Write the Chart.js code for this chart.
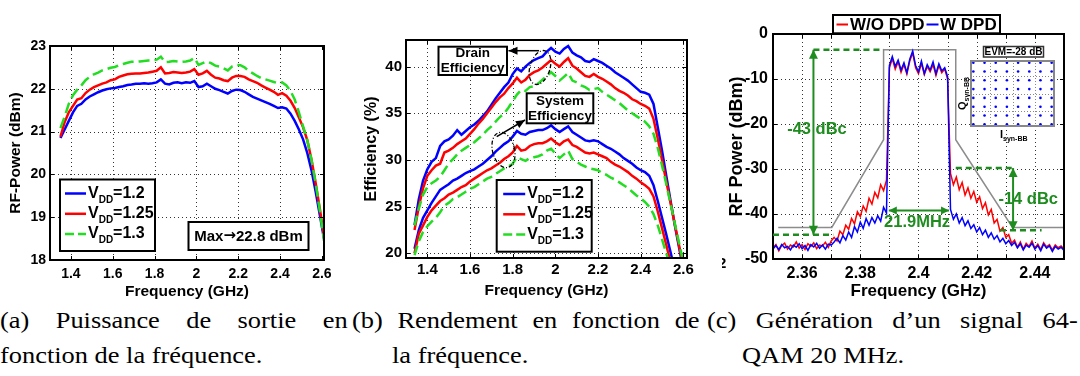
<!DOCTYPE html>
<html>
<head>
<meta charset="utf-8">
<script src="https://cdn.jsdelivr.net/npm/chart.js@4.4.1/dist/chart.umd.min.js"></script>
<style>
  html, body { margin: 0; padding: 0; background: #fff; }
  body { width: 1080px; height: 376px; position: relative; overflow: hidden; }
  canvas { position: absolute; }
  .cap { position: absolute; font-family: "Liberation Serif", "Times New Roman", serif; font-size: 24px;
         line-height: 28px; white-space: nowrap; color: #000; transform-origin: 0 0; transform: scaleX(1.1); }
  .just { text-align: justify; text-align-last: justify; white-space: normal; }
  .stray { position: absolute; left: 722px; top: 254px; width: 6px; height: 16px; overflow: hidden;
           font: bold 15px "Liberation Sans", Arial, sans-serif; }
  .stray span { margin-left: -4px; }
</style>
</head>
<body>
<canvas id="chartA" width="335" height="305" style="left:0;top:0"></canvas>
<canvas id="chartB" width="355" height="305" style="left:340px;top:0"></canvas>
<canvas id="chartC" width="380" height="305" style="left:700px;top:0"></canvas>
<canvas id="chartQam" width="85" height="67" style="left:970px;top:60px"></canvas>
<div class="stray"><span>2</span></div>

<div class="cap just" style="left:0;top:306px;width:316px">(a) Puissance de sortie en</div>
<div class="cap" style="left:0;top:341px">fonction de la fréquence.</div>
<div class="cap just" style="left:352px;top:306px;width:316px">(b) Rendement en fonction de</div>
<div class="cap" style="left:392px;top:341px">la fréquence.</div>
<div class="cap just" style="left:707px;top:306px;width:337px">(c) Génération d’un signal 64-</div>
<div class="cap" style="left:742px;top:341px">QAM 20 MHz.</div>

<script>
// ------------------   DATA   ----------------
// (a) output power vs frequency
const freqA = [
  1.35, 1.37, 1.39, 1.41, 1.43, 1.45, 1.47, 1.49, 1.51, 1.53,
  1.55, 1.57, 1.59, 1.61, 1.63, 1.65, 1.67, 1.69, 1.71, 1.73,
  1.75, 1.77, 1.79, 1.81, 1.83, 1.85, 1.87, 1.89, 1.91, 1.93,
  1.95, 1.97, 1.99, 2.01, 2.03, 2.05, 2.07, 2.09, 2.11, 2.13,
  2.15, 2.17, 2.19, 2.21, 2.23, 2.25, 2.27, 2.29, 2.31, 2.33,
  2.35, 2.37, 2.39, 2.41, 2.43, 2.45, 2.47, 2.49, 2.51, 2.53,
  2.55, 2.57, 2.59, 2.61
];
const powerVdd12 = [
  20.85, 21.05, 21.25, 21.45, 21.6, 21.65, 21.75, 21.82, 21.87, 21.92,
  21.96, 21.99, 22.01, 22.02, 22.04, 22.06, 22.09, 22.1, 22.12, 22.12,
  22.13, 22.12, 22.13, 22.15, 22.22, 22.12, 22.1, 22.14, 22.15, 22.13,
  22.15, 22.14, 22.18, 22.04, 22.06, 22.12, 22.06, 22.0, 21.97, 21.93,
  21.89, 21.95, 21.98, 21.97, 21.93, 21.87, 21.81, 21.77, 21.73, 21.69,
  21.65, 21.6, 21.55, 21.57, 21.54, 21.42, 21.25, 21.05, 20.82, 20.5,
  20.1, 19.6, 19.05, 18.5
];
const powerVdd125 = [
  20.88, 21.22, 21.45, 21.6, 21.75, 21.78, 21.9, 21.98, 22.04, 22.08,
  22.12, 22.15, 22.2, 22.22, 22.28, 22.31, 22.34, 22.35, 22.36, 22.36,
  22.37, 22.38, 22.4, 22.42, 22.5, 22.36, 22.37, 22.39, 22.38, 22.37,
  22.38, 22.4, 22.46, 22.33, 22.36, 22.42, 22.33, 22.26, 22.24, 22.2,
  22.18, 22.26, 22.3, 22.3, 22.28, 22.22, 22.18, 22.14, 22.08, 22.03,
  21.98, 21.93, 21.86, 21.9, 21.84, 21.72, 21.55, 21.33, 21.1, 20.8,
  20.35, 19.8, 19.2, 18.55
];
const powerVdd13 = [
  21.08, 21.35, 21.65, 21.85, 21.98, 22.08, 22.2, 22.28, 22.34, 22.38,
  22.43, 22.46, 22.49, 22.51, 22.55, 22.58, 22.61, 22.63, 22.63, 22.64,
  22.65, 22.66, 22.66, 22.68, 22.75, 22.62, 22.63, 22.65, 22.64, 22.63,
  22.64, 22.66, 22.72, 22.56, 22.6, 22.64, 22.6, 22.54, 22.52, 22.48,
  22.43, 22.52, 22.56, 22.55, 22.5, 22.42, 22.36, 22.3, 22.25, 22.22,
  22.19, 22.16, 22.13, 22.15, 22.08, 21.95, 21.75, 21.45, 21.12, 20.8,
  20.35, 19.8, 19.15, 18.45
];
const xTicksA = [1.4, 1.6, 1.8, 2, 2.2, 2.4, 2.6];
const yTicksA = [18, 19, 20, 21, 22, 23];

// (b) drain and system efficiency vs frequency
const freqB = [
  1.34, 1.36, 1.38, 1.40, 1.42, 1.44, 1.46, 1.48, 1.50, 1.52,
  1.54, 1.56, 1.58, 1.60, 1.62, 1.64, 1.66, 1.68, 1.70, 1.72,
  1.74, 1.76, 1.78, 1.80, 1.82, 1.84, 1.86, 1.88, 1.90, 1.92,
  1.94, 1.96, 1.98, 2.00, 2.02, 2.04, 2.06, 2.08, 2.10, 2.12,
  2.14, 2.16, 2.18, 2.20, 2.22, 2.24, 2.26, 2.28, 2.30, 2.32,
  2.34, 2.36, 2.38, 2.40, 2.42, 2.44, 2.46, 2.48, 2.50, 2.52,
  2.54, 2.56, 2.58, 2.60
];
const drainVdd12 = [
  23.0, 25.8, 27.8, 29.0, 29.8, 30.2, 31.5, 32.0, 32.2, 32.6,
  33.2, 32.7, 33.1, 33.5, 33.8, 34.2, 34.7, 35.2, 35.9, 36.6,
  37.2, 37.8, 38.3, 39.2, 39.8, 39.5, 40.0, 40.4, 40.7, 40.9,
  41.1, 41.6, 42.0, 41.6, 41.4, 41.9, 42.2, 41.5, 41.2, 41.0,
  40.6, 40.5, 40.8, 40.6, 40.4, 40.1, 39.8, 39.4, 39.1, 38.8,
  38.5, 38.1, 37.7, 37.3, 37.2, 37.0, 36.0, 33.5, 31.0, 28.3,
  25.6, 23.0, 20.6, 18.2
];
const drainVdd125 = [
  22.5, 25.0, 27.0, 28.3, 28.9, 29.4, 29.6, 30.8, 31.0, 31.3,
  31.7, 32.0, 32.3, 32.8, 33.3, 33.9, 34.4, 35.0, 35.6, 36.2,
  36.7, 37.1, 37.7, 38.2, 38.8, 38.3, 38.6, 39.1, 39.4, 39.6,
  39.9, 40.3, 40.7, 40.3, 40.0, 40.5, 40.9, 40.1, 39.8, 39.4,
  39.0, 38.9, 39.2, 38.9, 38.7, 38.4, 38.1, 37.7, 37.4, 37.2,
  36.9, 36.5, 36.3, 36.0, 35.8, 35.5, 34.4, 32.3, 30.0, 27.7,
  25.4, 23.1, 20.8, 18.5
];
const drainVdd13 = [
  23.0, 24.8, 26.3, 27.1, 27.5, 27.8, 28.2, 28.9, 29.6, 30.1,
  30.6, 31.0, 31.3, 31.6, 31.9, 32.3, 32.7, 33.2, 33.6, 34.1,
  34.6, 35.0, 35.6, 36.3, 37.0, 37.5, 37.4, 37.8, 37.9, 38.2,
  38.6, 39.0, 39.4, 39.0, 38.5, 38.9, 39.3, 38.5, 38.3, 38.0,
  37.8, 37.5, 37.6, 37.7, 37.3, 37.0, 36.7, 36.4, 36.1, 35.7,
  35.3, 35.0, 34.7, 34.4, 34.1, 33.6, 32.8, 31.3, 29.4, 27.4,
  25.3, 23.2, 21.1, 19.0
];
const systemVdd12 = [
  20.5, 22.5, 23.8, 24.6, 25.4, 26.1, 26.8, 27.1, 27.4, 27.8,
  28.0, 28.3, 28.6, 28.8, 29.0, 29.3, 29.6, 30.0, 30.4, 30.9,
  31.3, 31.7, 32.0, 32.5, 33.1, 32.8, 32.7, 33.0, 33.1, 33.2,
  33.2, 33.4, 33.7, 33.3, 33.0, 33.3, 33.6, 33.0, 32.7, 32.4,
  32.1, 32.0, 32.1, 32.0, 31.7, 31.4, 31.2, 30.9, 30.6, 30.2,
  29.9, 29.6, 29.2, 28.9, 28.7, 28.3, 27.3, 25.6, 23.8, 22.0,
  20.1, 18.2, null, null
];
const systemVdd125 = [
  20.0, 22.1, 23.0, 23.9, 24.6, 25.1, 25.6, 25.9, 26.3, 26.5,
  26.8, 27.1, 27.3, 27.7, 28.0, 28.3, 28.6, 28.9, 29.1, 29.4,
  29.7, 30.1, 30.4, 30.8, 31.5, 31.0, 31.1, 31.5, 31.7, 31.8,
  31.8, 32.0, 32.3, 31.9, 31.6, 32.0, 32.2, 31.6, 31.4, 31.1,
  30.8, 30.7, 30.8, 30.6, 30.4, 30.2, 29.8, 29.5, 29.3, 29.0,
  28.7, 28.3, 28.0, 27.6, 27.3, 26.9, 26.1, 24.5, 22.7, 20.9,
  19.0, 17.1, null, null
];
const systemVdd13 = [
  19.8, 21.3, 22.3, 22.9, 23.4, 23.8, 24.4, 25.1, 25.4, 25.8,
  26.0, 26.3, 26.6, 26.9, 27.1, 27.4, 27.7, 28.0, 28.2, 28.5,
  28.8, 29.1, 29.3, 29.6, 30.3, 30.1, 29.9, 30.2, 30.3, 30.4,
  30.6, 31.0, 31.2, 30.7, 30.2, 30.6, 31.0, 30.1, 29.8, 29.5,
  29.3, 29.1, 29.0, 28.9, 28.6, 28.4, 28.1, 27.9, 27.6, 27.3,
  27.0, 26.6, 26.2, 25.9, 25.5, 25.0, 24.2, 23.0, 21.5, 20.0,
  18.5, null, null, null
];
const xTicksB = [1.4, 1.6, 1.8, 2, 2.2, 2.4, 2.6];
const yTicksB = [20, 25, 30, 35, 40];

// (c) 64-QAM 20 MHz spectrum
const freqC = [
  2.350, 2.351, 2.352, 2.353, 2.354, 2.355, 2.356, 2.357, 2.358, 2.359,
  2.360, 2.361, 2.362, 2.363, 2.364, 2.365, 2.366, 2.367, 2.368, 2.369,
  2.370, 2.371, 2.372, 2.373, 2.374, 2.375, 2.376, 2.377, 2.378, 2.379,
  2.380, 2.381, 2.382, 2.383, 2.384, 2.385, 2.386, 2.387, 2.388, 2.389,
  2.390, 2.391, 2.392, 2.393, 2.394, 2.395, 2.396, 2.397, 2.398, 2.399,
  2.400, 2.401, 2.402, 2.403, 2.404, 2.405, 2.406, 2.407, 2.408, 2.409,
  2.410, 2.411, 2.412, 2.413, 2.414, 2.415, 2.416, 2.417, 2.418, 2.419,
  2.420, 2.421, 2.422, 2.423, 2.424, 2.425, 2.426, 2.427, 2.428, 2.429,
  2.430, 2.431, 2.432, 2.433, 2.434, 2.435, 2.436, 2.437, 2.438, 2.439,
  2.440, 2.441, 2.442, 2.443, 2.444, 2.445, 2.446, 2.447, 2.448, 2.449,
  2.450
];
const powerNoDpd = [
  -47.5, -46.8, -48.2, -47.0, -46.5, -47.8, -46.9, -47.3, -46.2, -47.6,
  -46.8, -47.9, -46.6, -47.2, -46.4, -47.7, -46.9, -47.1, -46.3, -47.4,
  -46.0, -45.2, -46.0, -43.8, -44.6, -42.5, -43.4, -41.0, -42.2, -39.5,
  -40.6, -38.2, -39.4, -36.5, -37.8, -35.2, -36.4, -33.5, -34.8, -32.5,
  -7.5, -5.5, -7.8, -6.2, -8.5, -6.8, -8.9, -6.0, -4.2, -7.5,
  -8.8, -6.5, -9.0, -7.2, -8.4, -6.8, -9.2, -7.0, -8.6, -7.8,
  -10.0, -31.0, -33.5, -31.8, -34.6, -33.0, -35.8, -34.2, -36.5, -35.0,
  -37.4, -36.2, -38.8, -37.5, -40.2, -39.0, -42.0, -41.2, -43.8, -43.0,
  -45.2, -44.6, -46.5, -45.8, -47.4, -46.2, -47.8, -46.5, -47.2, -46.0,
  -47.6, -46.7, -47.9, -46.4, -47.3, -46.8, -48.0, -46.9, -47.5, -47.1,
  -47.8
];
const powerWithDpd = [
  -47.8, -47.0, -47.9, -46.8, -47.5, -47.2, -48.0, -46.9, -47.4, -46.6,
  -47.7, -47.0, -48.1, -46.8, -47.3, -46.5, -47.6, -46.9, -47.8, -46.7,
  -46.9, -46.2, -45.4, -46.4, -44.8, -45.8, -44.0, -45.2, -42.8, -44.0,
  -41.8, -43.2, -41.0, -42.5, -40.8, -42.0, -40.4, -41.6, -38.5, -39.8,
  -7.0, -5.0, -7.2, -5.8, -8.0, -6.4, -8.6, -5.6, -3.8, -7.0,
  -8.4, -6.0, -8.8, -6.8, -8.0, -6.2, -8.8, -6.6, -8.2, -7.5,
  -9.5, -39.0, -41.2, -40.0, -42.0, -40.8, -42.6, -41.5, -43.2, -42.4,
  -44.0, -43.0, -44.6, -43.6, -45.2, -44.2, -45.6, -44.8, -46.2, -45.4,
  -46.6, -45.9, -47.0, -46.3, -47.5, -46.6, -48.0, -46.9, -47.4, -46.5,
  -47.8, -47.0, -48.2, -46.7, -47.6, -47.1, -48.3, -47.2, -47.8, -47.4,
  -48.1
];
const maskFreq = [2.3518, 2.3702, 2.388, 2.388, 2.4128, 2.4128, 2.4323, 2.45];
const maskPower = [-43, -43, -23.5, -3.5, -3.5, -23.5, -43, -43];
const xTicksC = [2.36, 2.37, 2.38, 2.39, 2.40, 2.41, 2.42, 2.43, 2.44];
const yTicksC = [-50, -40, -30, -20, -10, 0];
const qamLevels = [-7, -5, -3, -1, 1, 3, 5, 7];
const qamGrid = [-4, 0, 4];
const vddLabels = ['1.2', '1.25', '1.3'];

// ------------------   STYLE   ----------------
const FONT = '"Liberation Sans", Arial, sans-serif';
const BLUE = '#0000ff';
const RED = '#ff0000';
const LIME = '#22dd22';
const GREEN = '#1e8c1e';
Chart.defaults.font.family = FONT;
Chart.defaults.color = '#000';

// ------------   FUNCTIONS   ----------------------
const toPoints = (xs, ys) => xs.map((x, i) => ({ x, y: ys[i] }));
const fmt = (v) => String(+Number(v).toFixed(2));

function curve(xs, ys, color, width, dash) {
  return {
    data: toPoints(xs, ys),
    borderColor: color,
    borderWidth: width,
    borderDash: dash || [],
    pointRadius: 0,
    tension: 0,
    fill: false,
  };
}

function axes(c) {
  return {
    x: {
      type: 'linear', min: c.xMin, max: c.xMax,
      afterBuildTicks: (s) => { s.ticks = c.xTicks.map((v) => ({ value: v })); },
      afterFit: (s) => { s.height = c.xHeight; s.paddingLeft = 0; s.paddingRight = 0; },
      grid: { display: false, drawTicks: false },
      border: { display: false },
      ticks: {
        autoSkip: false, maxRotation: 0, padding: c.xPad,
        font: { size: c.tickSize, weight: 'bold' },
        callback: c.xLabel || fmt,
      },
      title: {
        display: true, text: 'Frequency (GHz)',
        font: { size: c.xTitleSize, weight: 'bold' },
        padding: { top: 0, bottom: c.xTitlePad },
      },
    },
    y: {
      type: 'linear', min: c.yMin, max: c.yMax,
      afterBuildTicks: (s) => { s.ticks = c.yTicks.map((v) => ({ value: v })); },
      afterFit: (s) => { s.width = c.yWidth; s.paddingTop = 0; s.paddingBottom = 0; },
      grid: { display: false, drawTicks: false },
      border: { display: false },
      ticks: { autoSkip: false, padding: c.yPad, font: { size: c.tickSize, weight: 'bold' }, callback: fmt },
      title: {
        display: true, text: c.yTitle,
        font: { size: c.yTitleSize, weight: 'bold' },
        padding: { top: c.yTitlePad, bottom: 0 },
      },
    },
  };
}

function baseOptions(padding, scales, extra) {
  return {
    responsive: false, animation: false, devicePixelRatio: 1, events: [],
    layout: { padding, autoPadding: false },
    scales,
    plugins: Object.assign({ legend: { display: false }, tooltip: { enabled: false } }, extra || {}),
  };
}

// dotted grid, inward ticks and black box like a matlab axes
const matlabAxes = {
  id: 'matlabAxes',
  beforeDatasetsDraw(chart, args, opts) {
    const { ctx, chartArea: a, scales: { x, y } } = chart;
    ctx.save();
    ctx.strokeStyle = opts.gridColor || '#333';
    ctx.lineWidth = 1;
    ctx.setLineDash([1, 3]);
    ctx.beginPath();
    x.ticks.forEach((t) => {
      const p = Math.round(x.getPixelForValue(t.value)) + 0.5;
      if (p < a.left + 2 || p > a.right - 2) return;
      ctx.moveTo(p, a.top); ctx.lineTo(p, a.bottom);
    });
    y.ticks.forEach((t) => {
      const p = Math.round(y.getPixelForValue(t.value)) + 0.5;
      if (p < a.top + 2 || p > a.bottom - 2) return;
      ctx.moveTo(a.left, p); ctx.lineTo(a.right, p);
    });
    ctx.stroke();
    ctx.restore();
  },
  afterDatasetsDraw(chart, args, opts) {
    const { ctx, chartArea: a, scales: { x, y } } = chart;
    const tl = 4;
    ctx.save();
    ctx.strokeStyle = '#000';
    ctx.lineWidth = 1;
    ctx.beginPath();
    x.ticks.forEach((t) => {
      const p = Math.round(x.getPixelForValue(t.value)) + 0.5;
      ctx.moveTo(p, a.bottom); ctx.lineTo(p, a.bottom - tl);
      ctx.moveTo(p, a.top); ctx.lineTo(p, a.top + tl);
    });
    y.ticks.forEach((t) => {
      const p = Math.round(y.getPixelForValue(t.value)) + 0.5;
      ctx.moveTo(a.left, p); ctx.lineTo(a.left + tl, p);
      ctx.moveTo(a.right, p); ctx.lineTo(a.right - tl, p);
    });
    ctx.stroke();
    ctx.lineWidth = opts.frameWidth || 2;
    ctx.strokeRect(a.left, a.top, a.right - a.left, a.bottom - a.top);
    ctx.restore();
  },
};

function box(ctx, x, y, w, h, lw, color) {
  ctx.fillStyle = '#fff';
  ctx.fillRect(x, y, w, h);
  ctx.lineWidth = lw;
  ctx.strokeStyle = color || '#000';
  ctx.strokeRect(x, y, w, h);
}

function centeredLines(ctx, cx, cy, lines, size, gap) {
  ctx.fillStyle = '#000';
  ctx.font = 'bold ' + size + 'px ' + FONT;
  ctx.textAlign = 'center';
  ctx.textBaseline = 'middle';
  const top = cy - ((lines.length - 1) * gap) / 2;
  lines.forEach((t, i) => ctx.fillText(t, cx, top + i * gap));
}

function vddLegend(ctx, x, y, w, h, l) {
  const entries = [
    { color: BLUE, dash: [] },
    { color: RED, dash: [] },
    { color: LIME, dash: [9, 4] },
  ];
  ctx.save();
  box(ctx, x, y, w, h, 2);
  entries.forEach((e, i) => {
    const cy = y + 14 + i * 20.3;
    ctx.strokeStyle = e.color;
    ctx.lineWidth = 2.5;
    ctx.setLineDash(e.dash);
    ctx.beginPath();
    ctx.moveTo(x + l.x0, cy); ctx.lineTo(x + l.x1, cy);
    ctx.stroke();
    ctx.setLineDash([]);
    ctx.fillStyle = '#000';
    ctx.textAlign = 'left';
    ctx.textBaseline = 'alphabetic';
    let tx = x + l.tx;
    ctx.font = 'bold 16px ' + FONT;
    ctx.fillText('V', tx, cy + 4);
    tx += ctx.measureText('V').width;
    ctx.font = 'bold 10px ' + FONT;
    ctx.fillText('DD', tx, cy + 9);
    tx += ctx.measureText('DD').width;
    ctx.font = 'bold 16px ' + FONT;
    ctx.fillText('=' + vddLabels[i], tx, cy + 4);
  });
  ctx.restore();
}

// "Max -> 22.8 dBm" with a full size arrow glyph
function maxNote(ctx, cx, cy) {
  const parts = [
    { t: 'Max', f: 'bold 15px ' + FONT },
    { t: '\u2192', f: 'bold 15px "DejaVu Sans", sans-serif' },
    { t: '22.8 dBm', f: 'bold 15px ' + FONT },
  ];
  let total = 0;
  parts.forEach((p) => { ctx.font = p.f; p.w = ctx.measureText(p.t).width; total += p.w; });
  let tx = cx - total / 2;
  ctx.fillStyle = '#000';
  ctx.textAlign = 'left';
  ctx.textBaseline = 'middle';
  parts.forEach((p) => { ctx.font = p.f; ctx.fillText(p.t, tx, cy); tx += p.w; });
}

function arrowHead(ctx, tx, ty, fx, fy, len, half) {
  const a = Math.atan2(ty - fy, tx - fx);
  const c = Math.cos(a), s = Math.sin(a);
  ctx.beginPath();
  ctx.moveTo(tx, ty);
  ctx.lineTo(tx - len * c + half * s, ty - len * s - half * c);
  ctx.lineTo(tx - len * c - half * s, ty - len * s + half * c);
  ctx.closePath();
  ctx.fill();
}

function arrow(ctx, x1, y1, x2, y2, both, len, half) {
  ctx.beginPath();
  ctx.moveTo(x1, y1); ctx.lineTo(x2, y2);
  ctx.stroke();
  arrowHead(ctx, x2, y2, x1, y1, len, half);
  if (both) arrowHead(ctx, x1, y1, x2, y2, len, half);
}

// ---- (a) notes ----
const notesA = {
  id: 'notesA',
  afterDraw(chart) {
    const { ctx, chartArea: a } = chart;
    vddLegend(ctx, a.left + 10, a.top + 133.5, 95, 71.5, { x0: 5, x1: 26, tx: 28 });
    ctx.save();
    box(ctx, a.left + 138.5, a.top + 176, 120, 28, 2);
    maxNote(ctx, a.left + 198.5, a.top + 190.5);
    ctx.restore();
  },
};

// ---- (b) notes ----
const notesB = {
  id: 'notesB',
  afterDraw(chart) {
    const { ctx, chartArea: a } = chart;
    const L = a.left, T = a.top;
    ctx.save();
    // dotted ellipses round the two curve groups
    ctx.strokeStyle = '#000';
    ctx.lineWidth = 1.3;
    ctx.setLineDash([4, 2, 1, 2]);
    ctx.beginPath();
    ctx.ellipse(L + 134, T + 27.5, 10, 17.5, 0.3, 0, Math.PI * 2);
    ctx.stroke();
    ctx.beginPath();
    ctx.ellipse(L + 97.5, T + 110, 11, 18, -0.25, 0, Math.PI * 2);
    ctx.stroke();
    ctx.setLineDash([]);
    ctx.lineWidth = 1.5;
    ctx.fillStyle = '#000';
    arrow(ctx, L + 133, T + 10.7, L + 102.5, T + 10.7, false, 9, 4);
    arrow(ctx, L + 90.7, T + 96.7, L + 119, T + 80, false, 9, 4);
    box(ctx, L + 32.5, T + 6.7, 68.5, 28.3, 2);
    centeredLines(ctx, L + 66.7, T + 20.8, ['Drain', 'Efficiency'], 13.5, 15);
    box(ctx, L + 120.7, T + 53.3, 66.6, 30, 2);
    centeredLines(ctx, L + 154, T + 68.3, ['System', 'Efficiency'], 13.5, 15);
    ctx.restore();
    vddLegend(ctx, L + 90.7, T + 140, 95, 71.7, { x0: 6.5, x1: 28.5, tx: 30.5 });
  },
};

// ---- (c) notes ----
const notesC = {
  id: 'notesC',
  afterDatasetsDraw(chart) {
    const { ctx, scales: { x, y } } = chart;
    const X = (v) => x.getPixelForValue(v);
    const Y = (v) => y.getPixelForValue(v);
    ctx.save();
    ctx.strokeStyle = GREEN;
    ctx.fillStyle = GREEN;
    ctx.lineWidth = 2.5;
    ctx.setLineDash([6, 4]);
    [[2.3639, 2.388, -3.5], [2.35, 2.3707, -44.6], [2.4128, 2.4325, -29.8], [2.428, 2.4423, -43.6]]
      .forEach(([f1, f2, v]) => {
        ctx.beginPath();
        ctx.moveTo(X(f1), Y(v)); ctx.lineTo(X(f2), Y(v));
        ctx.stroke();
      });
    ctx.setLineDash([]);
    ctx.lineWidth = 2;
    arrow(ctx, X(2.3639), Y(-3.5), X(2.3639), Y(-44.6), true, 9, 4.5);
    arrow(ctx, X(2.4325), Y(-29.8), X(2.4325), Y(-43.6), true, 9, 4.5);
    arrow(ctx, X(2.3898), Y(-39.2), X(2.4105), Y(-39.2), true, 8, 4);
    ctx.font = 'bold 16.5px ' + FONT;
    ctx.textAlign = 'center';
    ctx.textBaseline = 'middle';
    ctx.fillText('-43 dBc', X(2.3651), Y(-21.3));
    ctx.fillText('-14 dBc', X(2.4377), Y(-36.8));
    ctx.fillText('21.9MHz', X(2.3995), Y(-41.8));
    ctx.restore();
  },
  afterDraw(chart) {
    const { ctx } = chart;
    ctx.save();
    // series legend on top of the axes
    box(ctx, 133, 15, 167, 18.3, 2);
    ctx.lineWidth = 2;
    ctx.strokeStyle = RED;
    ctx.beginPath(); ctx.moveTo(136.5, 24.5); ctx.lineTo(148, 24.5); ctx.stroke();
    ctx.strokeStyle = BLUE;
    ctx.beginPath(); ctx.moveTo(226.5, 24.5); ctx.lineTo(238.5, 24.5); ctx.stroke();
    ctx.fillStyle = '#000';
    ctx.font = 'bold 17px ' + FONT;
    ctx.textAlign = 'left';
    ctx.textBaseline = 'middle';
    ctx.fillText('W/O DPD', 150, 25);
    ctx.fillText('W DPD', 240, 25);
    // constellation inset labels
    box(ctx, 283.5, 46.5, 60, 10.5, 1.5, '#333');
    ctx.fillStyle = '#000';
    ctx.font = 'bold 10px ' + FONT;
    ctx.textAlign = 'center';
    ctx.fillText('EVM=-28 dB', 313.5, 52);
    ctx.textAlign = 'left';
    ctx.textBaseline = 'alphabetic';
    ctx.save();
    ctx.translate(265.5, 110);
    ctx.rotate(-Math.PI / 2);
    ctx.font = 'bold 11px ' + FONT;
    ctx.fillText('Q', 0, 0);
    let w = ctx.measureText('Q').width;
    ctx.font = 'bold 7px ' + FONT;
    ctx.fillText('syn-BB', w, 3);
    ctx.restore();
    ctx.font = 'bold 11px ' + FONT;
    ctx.fillText('I', 300, 138);
    w = ctx.measureText('I').width;
    ctx.font = 'bold 7px ' + FONT;
    ctx.fillText('syn-BB', 300 + w, 141);
    ctx.restore();
  },
};

// ---- constellation inset ----
const insetAxes = {
  id: 'insetAxes',
  beforeDraw(chart) {
    const { ctx, width, height } = chart;
    ctx.save();
    ctx.fillStyle = '#fff';
    ctx.fillRect(0, 0, width, height);
    ctx.restore();
  },
  beforeDatasetsDraw(chart) {
    const { ctx, chartArea: a, scales: { x, y } } = chart;
    ctx.save();
    ctx.strokeStyle = '#888';
    ctx.lineWidth = 1;
    ctx.setLineDash([1, 2]);
    ctx.beginPath();
    qamGrid.forEach((v) => {
      const px = Math.round(x.getPixelForValue(v)) + 0.5;
      const py = Math.round(y.getPixelForValue(v)) + 0.5;
      ctx.moveTo(px, a.top); ctx.lineTo(px, a.bottom);
      ctx.moveTo(a.left, py); ctx.lineTo(a.right, py);
    });
    ctx.stroke();
    ctx.restore();
  },
  afterDraw(chart) {
    const { ctx, width, height } = chart;
    ctx.save();
    ctx.strokeStyle = '#888';
    ctx.lineWidth = 2;
    ctx.strokeRect(1, 1, width - 2, height - 2);
    ctx.restore();
  },
};

// ------------   CHARTS   ----------------------
function renderPowerChart() {
  const scales = axes({
    xMin: 1.3, xMax: 2.61, xTicks: xTicksA, xHeight: 45, xPad: 6, xTitleSize: 15.5, xTitlePad: 4,
    yMin: 18, yMax: 23, yTicks: yTicksA, yWidth: 50, yPad: 4, yTitle: 'RF-Power (dBm)', yTitleSize: 15.5, yTitlePad: 6,
    tickSize: 14,
  });
  new Chart(document.getElementById('chartA'), {
    type: 'line',
    data: {
      datasets: [
        curve(freqA, powerVdd13, LIME, 2.5, [11, 5]),
        curve(freqA, powerVdd125, RED, 2.5),
        curve(freqA, powerVdd12, BLUE, 2.5),
      ],
    },
    options: baseOptions({ left: 0, right: 11, top: 46, bottom: 0 }, scales, { matlabAxes: { frameWidth: 2 } }),
    plugins: [matlabAxes, notesA],
  });
}

function renderEfficiencyChart() {
  const scales = axes({
    xMin: 1.3, xMax: 2.617, xTicks: xTicksB, xHeight: 47, xPad: 3, xTitleSize: 15.5, xTitlePad: 5,
    yMin: 19.5, yMax: 42.85, yTicks: yTicksB, yWidth: 66, yPad: 4, yTitle: 'Efficiency (%)', yTitleSize: 16, yTitlePad: 22,
    tickSize: 15,
  });
  new Chart(document.getElementById('chartB'), {
    type: 'line',
    data: {
      datasets: [
        curve(freqB, drainVdd13, LIME, 2.5, [10, 5]),
        curve(freqB, systemVdd13, LIME, 2.5, [10, 5]),
        curve(freqB, drainVdd125, RED, 2.5),
        curve(freqB, systemVdd125, RED, 2.5),
        curve(freqB, drainVdd12, BLUE, 2.5),
        curve(freqB, systemVdd12, BLUE, 2.5),
      ],
    },
    options: baseOptions({ left: 0, right: 8, top: 40, bottom: 0 }, scales, { matlabAxes: { frameWidth: 2 } }),
    plugins: [matlabAxes, notesB],
  });
}

function renderSpectrumChart() {
  const scales = axes({
    xMin: 2.35, xMax: 2.45, xTicks: xTicksC, xHeight: 46, xPad: 5, xTitleSize: 17, xTitlePad: 3,
    xLabel: (v, i) => (i % 2 === 0 ? fmt(v) : ''),
    yMin: -50, yMax: 0, yTicks: yTicksC, yWidth: 73, yPad: 5, yTitle: 'RF Power (dBm)', yTitleSize: 18, yTitlePad: 26,
    tickSize: 16,
  });
  new Chart(document.getElementById('chartC'), {
    type: 'line',
    data: {
      datasets: [
        curve(freqC, powerWithDpd, BLUE, 1.5),
        curve(freqC, powerNoDpd, RED, 1.5),
        curve(maskFreq, maskPower, '#8c8c8c', 1.5),
      ],
    },
    options: baseOptions({ left: 0, right: 16, top: 34, bottom: 0 }, scales, { matlabAxes: { frameWidth: 2 } }),
    plugins: [matlabAxes, notesC],
  });
}

function renderConstellation() {
  const points = [];
  qamLevels.forEach((i) => qamLevels.forEach((q) => points.push({ x: i, y: q })));
  new Chart(document.getElementById('chartQam'), {
    type: 'scatter',
    data: { datasets: [{ data: points, backgroundColor: BLUE, borderWidth: 0, pointRadius: 1.3, clip: false }] },
    options: baseOptions(0, {
      x: { type: 'linear', min: -7.6, max: 7.6, display: false },
      y: { type: 'linear', min: -7.6, max: 7.6, display: false },
    }),
    plugins: [insetAxes],
  });
}

// ------------ function calls ---------------------
renderPowerChart();
renderEfficiencyChart();
renderSpectrumChart();
renderConstellation();
</script>
</body>
</html>
